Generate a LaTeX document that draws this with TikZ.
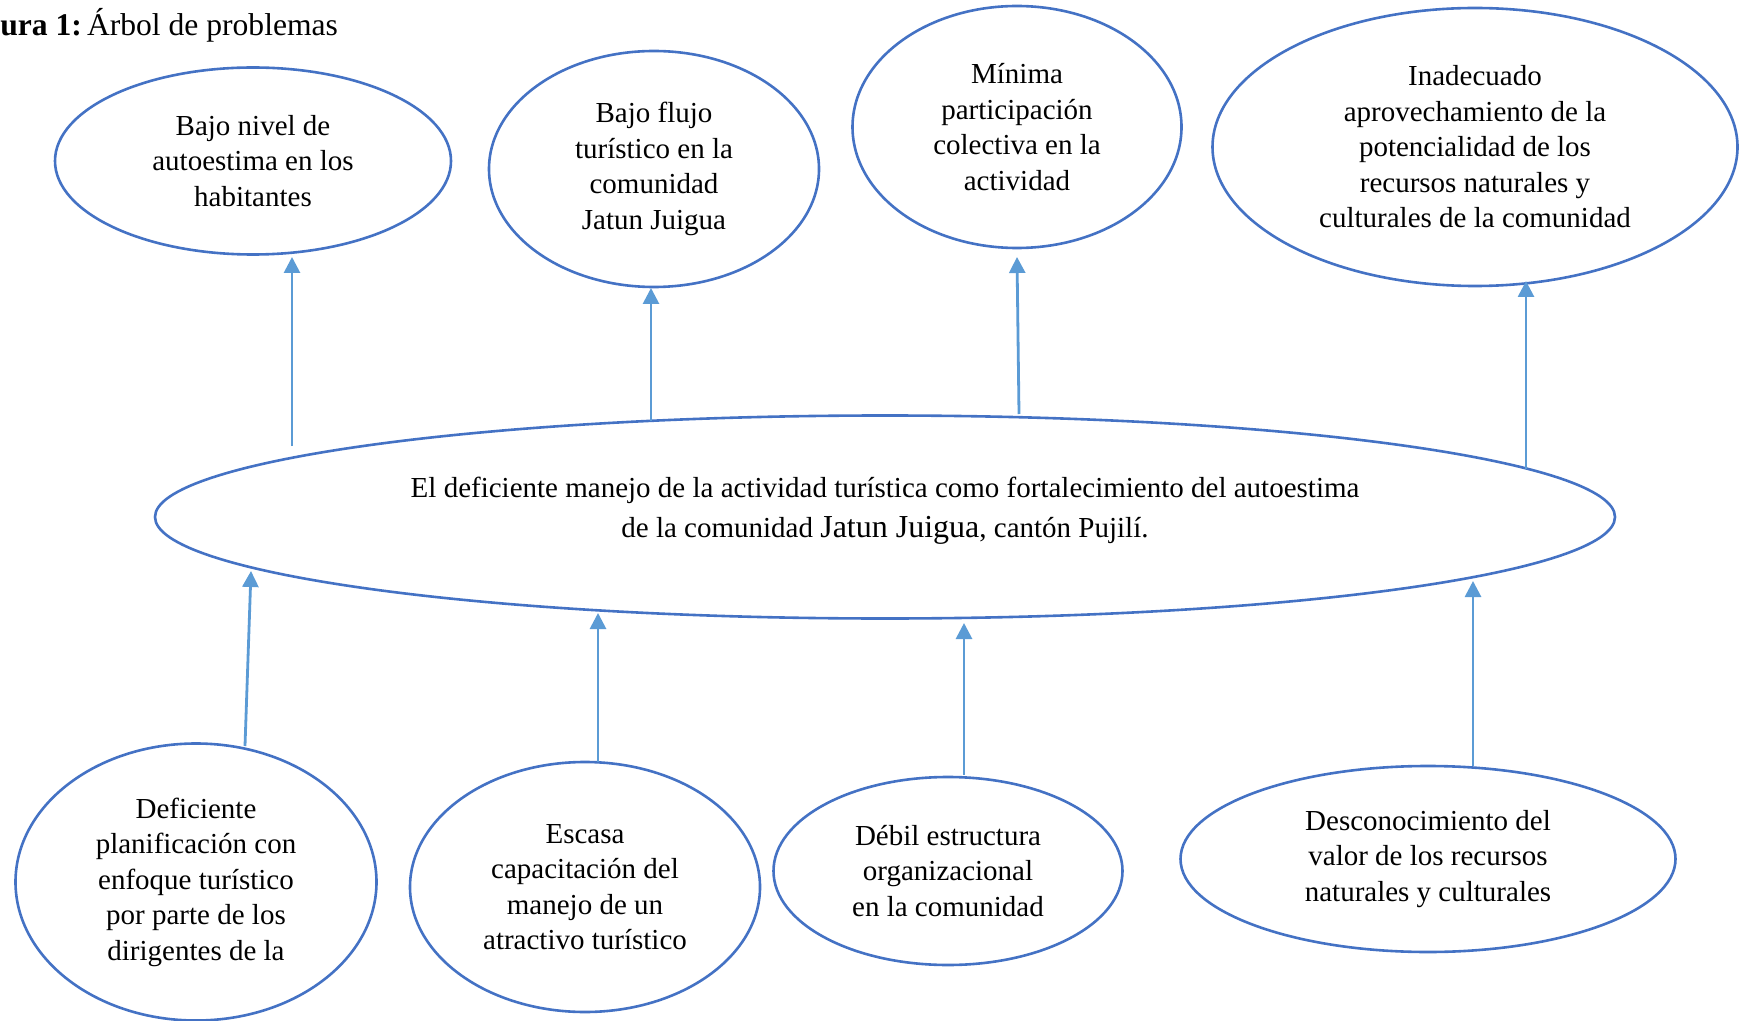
\documentclass[tikz,border=0pt]{standalone}
\usepackage{fontspec}
\setmainfont{Liberation Serif}
\usetikzlibrary{shapes.geometric,arrows.meta}
\definecolor{ringblue}{HTML}{4472C4}
\definecolor{arrowblue}{HTML}{5B9BD5}

\begin{document}
\begin{tikzpicture}[x=0.5pt,y=-0.5pt,
  prob/.style={draw=ringblue,line width=1.3pt,ellipse,inner sep=0pt,
    align=center,font=\fontsize{14.5pt}{17.75pt}\selectfont},
  link/.style={draw=arrowblue,line width=1.4pt,
    -{Triangle[width=8pt,length=8pt]}}]
\useasboundingbox (0,0) rectangle (1739,1021);

% caption
\node[anchor=base west,inner sep=0pt,font=\fontsize{15.8pt}{18pt}\selectfont]
  (cap) at (0,36) {\textbf{ura 1:}\kern2.5pt Árbol de problemas};

% effects (top row)
\node[prob,minimum width=198pt,minimum height=93.5pt] (e1) at (253,161)
  {Bajo nivel de\\autoestima en los\\habitantes};
\node[prob,minimum width=165pt,minimum height=118pt] (e2) at (654,169)
  {Bajo flujo\\turístico en la\\comunidad\\Jatun Juigua};
\node[prob,minimum width=164.5pt,minimum height=121pt] (e3) at (1017,127)
  {Mínima\\participación\\colectiva en la\\actividad};
\node[prob,minimum width=262.5pt,minimum height=139pt] (e4) at (1475,147)
  {Inadecuado\\aprovechamiento de la\\potencialidad de los\\recursos naturales y\\culturales de la comunidad};

% central problem
\node[prob,minimum width=730pt,minimum height=101.5pt] (m) at (885,517) {};
\node[inner sep=0pt,align=center,font=\fontsize{14.5pt}{20pt}\selectfont]
  (mt) at (885,511)
  {El deficiente manejo de la actividad turística como fortalecimiento del autoestima\\
   de la comunidad {\fontsize{16pt}{20pt}\selectfont Jatun Juigua}, cantón Pujilí.};

% causes (bottom row)
\node[prob,minimum width=180.5pt,minimum height=138.5pt] (b1) at (196,882)
  {Deficiente\\planificación con\\enfoque turístico\\por parte de los\\dirigentes de la};
\node[prob,minimum width=175pt,minimum height=125pt] (b2) at (585,887)
  {Escasa\\capacitación del\\manejo de un\\atractivo turístico};
\node[prob,minimum width=174.5pt,minimum height=94pt] (b3) at (948,871)
  {Débil estructura\\organizacional\\en la comunidad};
\node[prob,minimum width=247.5pt,minimum height=93pt] (b4) at (1428,859)
  {Desconocimiento del\\valor de los recursos\\naturales y culturales};

% arrow end points
\coordinate (u1s) at (292,446);  \coordinate (u1t) at (292,257);
\coordinate (u2s) at (651,421);  \coordinate (u2t) at (651,288);
\coordinate (u3s) at (1019,414); \coordinate (u3t) at (1017,257);
\coordinate (u4s) at (1526,469); \coordinate (u4t) at (1526,281);
\coordinate (d1s) at (245,746);  \coordinate (d1t) at (251,571);
\coordinate (d2s) at (598,762);  \coordinate (d2t) at (598,613);
\coordinate (d3s) at (964,775);  \coordinate (d3t) at (964,623);
\coordinate (d4s) at (1473,766); \coordinate (d4t) at (1473,581);

% effects of the central problem
\draw[link] (u1s) -- (u1t);
\draw[link] (u2s) -- (u2t);
\draw[link] (u3s) -- (u3t);
\draw[link] (u4s) -- (u4t);

% causes feeding the central problem
\draw[link] (d1s) -- (d1t);
\draw[link] (d2s) -- (d2t);
\draw[link] (d3s) -- (d3t);
\draw[link] (d4s) -- (d4t);
\end{tikzpicture}
\end{document}
